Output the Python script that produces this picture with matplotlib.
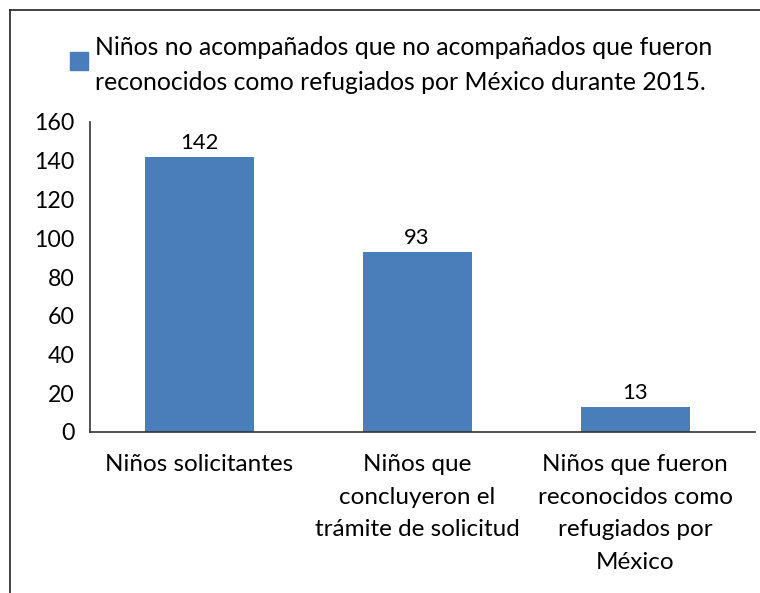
import matplotlib.pyplot as plt
from matplotlib.lines import Line2D
from matplotlib.patches import Rectangle

categorias = ['Niños solicitantes',
              'Niños que\nconcluyeron el\ntrámite de solicitud',
              'Niños que fueron\nreconocidos como\nrefugiados por\nMéxico']
valores = [142, 93, 13]
leyenda = ('Niños no acompañados que no acompañados que fueron\n'
           'reconocidos como refugiados por México durante 2015.')

plt.rcParams['font.family'] = ['Lato', 'DejaVu Sans']
color = '#4A7EBB'

fig = plt.figure(figsize=(7.6, 5.93), dpi=100)
W, H = 760, 593
ax = fig.add_axes([90 / W, 1 - 432 / H, (744 - 90) / W, (432 - 122) / H])

bars = ax.bar(range(len(valores)), valores, width=0.5, color=color)
for b, v in zip(bars, valores):
    ax.text(b.get_x() + b.get_width() / 2, v + 2, str(v), ha='center', va='bottom', fontsize=15.8)

ax.set_xlim(-0.5, 2.5)
ax.set_ylim(0, 160)
ax.set_yticks(range(0, 161, 20))
ax.set_xticks(range(len(categorias)))
ax.set_xticklabels(categorias, fontsize=17.5, linespacing=1.68)
ax.tick_params(axis='y', length=0, labelsize=16.7, pad=11)
ax.tick_params(axis='x', length=0, pad=16)
for s in ['top', 'right']:
    ax.spines[s].set_visible(False)
for s in ['left', 'bottom']:
    ax.spines[s].set_color('#333333')
    ax.spines[s].set_linewidth(1.2)
ax.spines['bottom'].set_bounds(-0.5, 2.55)

# leyenda
fig.patches.append(Rectangle((70 / W, 1 - 70 / H), 18 / W, 18 / H, color=color,
                             transform=fig.transFigure))
fig.text(95 / W, 1 - 65 / H, leyenda, fontsize=17.8, va='center', ha='left', linespacing=1.62)

# marco
fig.add_artist(Line2D([10 / W, 1], [1 - 10 / H] * 2, color='#222222', lw=1.2))
fig.add_artist(Line2D([10 / W] * 2, [1 - 10 / H, 0], color='#222222', lw=1.2))

fig.savefig('out.png', dpi=100)
